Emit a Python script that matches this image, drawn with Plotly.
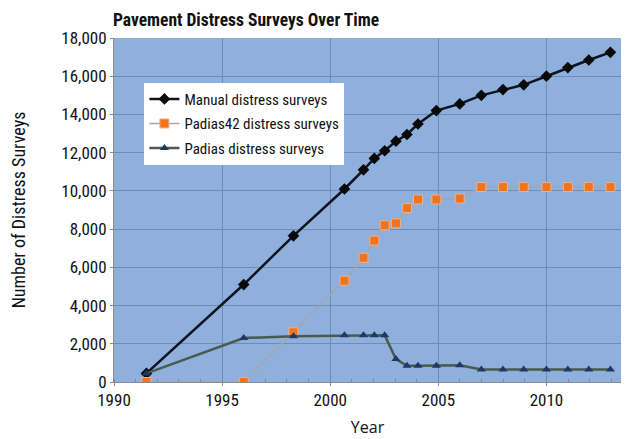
import plotly.graph_objects as go

years = [1991.5, 1996.0, 1998.3, 2000.66, 2001.54, 2002.04, 2002.52, 2003.04, 2003.55,
         2004.06, 2004.91, 2005.99, 2006.99, 2007.99, 2008.95, 2010.0, 2010.99, 2011.96, 2012.96]
manual = [450, 5100, 7650, 10100, 11100, 11700, 12100, 12600, 12950,
          13500, 14200, 14550, 15000, 15300, 15550, 16000, 16450, 16850, 17250]
padias42 = [0, 0, 2600, 5300, 6500, 7400, 8200, 8300, 9100,
            9550, 9550, 9600, 10200, 10200, 10200, 10200, 10200, 10200, 10200]
padias = [450, 2300, 2400, 2450, 2450, 2450, 2450, 1200, 850,
          850, 850, 870, 650, 650, 650, 650, 650, 650, 650]

COND = "Liberation Sans Narrow, Roboto Condensed, Arial Narrow, sans-serif"

fig = go.Figure()
fig.add_trace(go.Scatter(x=years, y=manual, name="Manual distress surveys", mode="lines+markers",
                         legendgroup="a",
                         line=dict(color="#0d1420", width=2.5),
                         marker=dict(symbol="diamond", size=9, color="#0a0a0a")))
fig.add_trace(go.Scatter(x=years, y=padias42, name="Padias42 distress surveys", mode="lines+markers",
                         legendgroup="b",
                         line=dict(color="#a3a7ae", width=1.5),
                         marker=dict(symbol="square", size=9, color="#ee7420",
                                     line=dict(color="#f4b080", width=1))))
fig.add_trace(go.Scatter(x=years, y=padias, name="Padias distress surveys", mode="lines+markers",
                         legendgroup="c",
                         line=dict(color="#4a5a4c", width=2.5),
                         marker=dict(symbol="triangle-up", size=8, color="#1f3868")))

fig.update_layout(
    width=625, height=439,
    margin=dict(l=114, r=4, t=38, b=57),
    paper_bgcolor="white", plot_bgcolor="#8fb0dc",
    title=dict(text="<b>Pavement Distress Surveys Over Time</b>", x=113/625, xanchor="left",
               y=1 - 20/439, yanchor="middle", font=dict(family=COND, size=17.5, color="#111")),
    legend=dict(x=0.06, y=0.87, xanchor="left", yanchor="top", bgcolor="white",
                borderwidth=0, font=dict(family=COND, size=15, color="#111"),
                tracegroupgap=2, itemwidth=30),
    showlegend=True,
    font=dict(family=COND, color="#111"),
)
fig.update_xaxes(range=[1990, 2013.45], tickvals=[1990, 1995, 2000, 2005, 2010],
                 showgrid=True, gridcolor="#6f8cb5", gridwidth=1, zeroline=False,
                 showline=True, linecolor="#8a8a8a", ticks="outside", ticklen=3, tickcolor="#888",
                 minor=dict(dtick=1, ticks="inside", ticklen=3, tickcolor="#6f8cb5"),
                 tickfont=dict(family=COND, size=17, color="#111"),
                 title=dict(text="Year", font=dict(family="Open Sans, sans-serif", size=16, color="#111"),
                            standoff=12))
fig.update_yaxes(range=[0, 18000], dtick=2000, tickformat=",d",
                 showgrid=True, gridcolor="#6f8cb5", gridwidth=1, zeroline=False,
                 showline=True, linecolor="#8a8a8a", ticks="outside", ticklen=3, tickcolor="#888",
                 tickfont=dict(family=COND, size=17, color="#111"),
                 title=dict(text="Number of Distress Surveys", font=dict(family=COND, size=18, color="#111"),
                            standoff=30))

fig.write_html("out.html", config={"displayModeBar": False},
               post_script="document.body.style.margin='0';document.body.style.padding='0';")
